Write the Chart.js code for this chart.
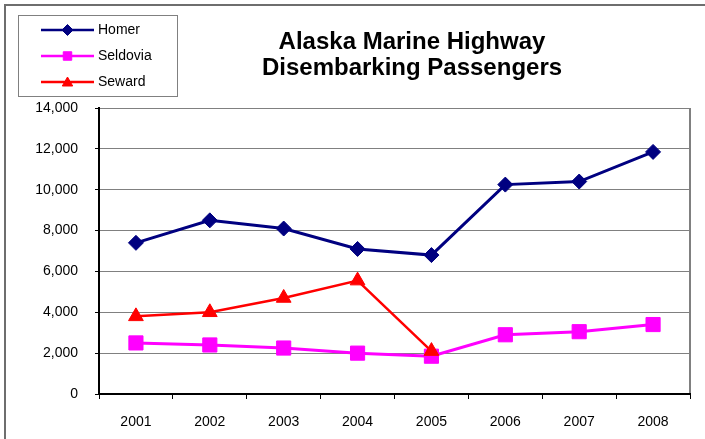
<!DOCTYPE html>
<html>
<head>
<meta charset="utf-8">
<script src="https://cdn.jsdelivr.net/npm/chart.js@4/dist/chart.umd.min.js"></script>
<style>
  body { margin: 0; background: #fff; }
  canvas { display: block; }
</style>
</head>
<body>
<canvas id="myChart" width="705" height="439"></canvas>
<script>
// data
const years = ['2001', '2002', '2003', '2004', '2005', '2006', '2007', '2008'];
const homer = [7400, 8500, 8100, 7100, 6800, 10250, 10400, 11850];
const seldovia = [2500, 2400, 2250, 2000, 1850, 2900, 3050, 3400];
const seward = [3800, 4000, 4700, 5550, 2100, null, null, null];
const yTicks = [0, 2000, 4000, 6000, 8000, 10000, 12000, 14000];
const titleLines = ['Alaska Marine Highway', 'Disembarking Passengers'];

const FONT = '"Liberation Sans", Arial, sans-serif';

// outer border, plot frame, title and legend box
const decor = {
  id: 'decor',
  beforeDraw(chart) {
    const c = chart.ctx;
    c.save();
    c.fillStyle = '#fff';
    c.fillRect(0, 0, chart.width, chart.height);
    c.strokeStyle = '#6e6e6e';
    c.lineWidth = 2;
    c.strokeRect(5, 5, chart.width + 50, chart.height + 50);
    c.restore();
  },
  beforeDatasetsDraw(chart) {
    const a = chart.chartArea;
    const c = chart.ctx;
    c.save();
    c.strokeStyle = '#808080';
    c.lineWidth = 2;
    c.beginPath();
    c.moveTo(a.right, a.top);
    c.lineTo(a.right, a.bottom);
    c.stroke();
    c.restore();
  },
  afterDraw(chart) {
    const c = chart.ctx;
    c.save();
    // title
    c.fillStyle = '#000';
    c.font = 'bold 24px ' + FONT;
    c.textAlign = 'center';
    c.textBaseline = 'alphabetic';
    titleLines.forEach((t, i) => c.fillText(t, 412, 49 + i * 26));

    // legend
    c.strokeStyle = '#808080';
    c.lineWidth = 1;
    c.strokeRect(18.5, 15.5, 159, 81);
    const sizes = {rectRot: 5.5, rect: 6, triangle: 6};
    chart.data.datasets.forEach((ds, i) => {
      const y = 30 + i * 26;
      c.strokeStyle = ds.borderColor;
      c.fillStyle = ds.borderColor;
      c.lineWidth = 2.5;
      c.beginPath();
      c.moveTo(41, y);
      c.lineTo(94, y);
      c.stroke();
      c.lineWidth = 1;
      Chart.helpers.drawPoint(c, {
        pointStyle: ds.pointStyle,
        radius: sizes[ds.pointStyle],
        rotation: 0,
        borderWidth: 1,
      }, 67.5, ds.pointStyle === 'triangle' ? y + 1 : y);
      c.fillStyle = '#000';
      c.font = '14px ' + FONT;
      c.textAlign = 'left';
      c.textBaseline = 'middle';
      c.fillText(ds.label, 98, y);
    });
    c.restore();
  },
};

const ctx = document.getElementById('myChart');

new Chart(ctx, {
  type: 'line',
  data: {
    labels: years,
    datasets: [
      {
        label: 'Homer',
        data: homer,
        borderColor: '#000080',
        backgroundColor: '#000080',
        borderWidth: 3,
        pointStyle: 'rectRot',
        pointRadius: 7.5,
        pointHoverRadius: 7.5,
        pointBorderWidth: 1,
        order: 3,
      },
      {
        label: 'Seldovia',
        data: seldovia,
        borderColor: '#ff00ff',
        backgroundColor: '#ff00ff',
        borderWidth: 3,
        pointStyle: 'rect',
        pointRadius: 10,
        pointHoverRadius: 10,
        pointBorderWidth: 1,
        order: 2,
      },
      {
        label: 'Seward',
        data: seward,
        borderColor: '#ff0000',
        backgroundColor: '#ff0000',
        borderWidth: 2.5,
        pointStyle: 'triangle',
        pointRadius: 8.5,
        pointHoverRadius: 8.5,
        pointBorderWidth: 1,
        order: 1,
      },
    ],
  },
  options: {
    responsive: false,
    animation: false,
    layout: {padding: {top: 108, right: 15, bottom: 0, left: 0}},
    plugins: {
      legend: {display: false},
      title: {display: false},
      tooltip: {enabled: false},
    },
    elements: {line: {tension: 0}},
    scales: {
      x: {
        offset: true,
        afterFit: (s) => { s.height = 45; },
        ticks: {
          padding: 15,
          color: '#000',
          font: {family: FONT, size: 14},
          maxRotation: 0,
          autoSkip: false,
        },
        grid: {
          offset: true,
          drawOnChartArea: false,
          tickLength: 5,
          color: '#000',
          tickColor: '#000',
        },
        border: {color: '#000', width: 2, z: 1},
      },
      y: {
        min: 0,
        max: 14000,
        afterFit: (s) => { s.width = 99; },
        afterBuildTicks: (s) => { s.ticks = yTicks.map((v) => ({value: v})); },
        ticks: {
          padding: 17,
          color: '#000',
          font: {family: FONT, size: 14},
          callback: (v) => v.toLocaleString('en-US'),
        },
        grid: {
          color: '#808080',
          lineWidth: 1,
          tickLength: 4,
          tickColor: '#000',
        },
        border: {color: '#000', width: 2, z: 1},
      },
    },
  },
  plugins: [decor],
});
</script>
</body>
</html>
